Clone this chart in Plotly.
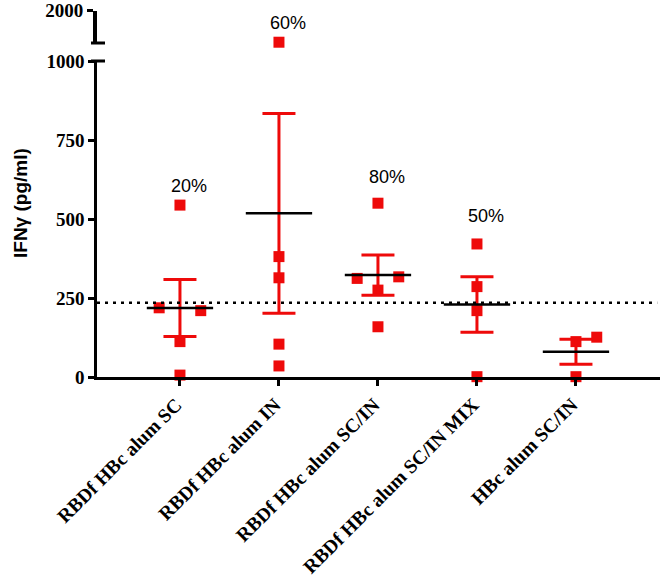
import numpy as np
import plotly.graph_objects as go

# ---------------- data ----------------
groups = ["RBDf HBc alum SC", "RBDf HBc alum IN", "RBDf HBc alum SC/IN",
          "RBDf HBc alum SC/IN MIX", "HBc alum SC/IN"]
g1 = [544, 219, 210, 112, 6]
g2 = [1756, 381, 314, 104, 35]
g3 = [550, 312, 317, 275, 159]
g4 = [421, 286, 210, 1]
g5 = [112, 126, 1]
values = [g1, g2, g3, g4, g5]
threshold = 235
pct_labels = ["20%", "60%", "80%", "50%", ""]
low_ticks = [0, 250, 500, 750, 1000]
high_ticks = [2000]

# ---------------- layout / style (positions) ----------------
jitter = [[0, -0.21, 0.21, 0, 0], [0, 0, 0, 0, 0], [0, -0.21, 0.21, 0, 0],
          [0, 0, 0, 0], [0, 0.21, 0]]
pct_label_py = [186, 23.5, 176.7, 216, None]   # pixel centres of the % labels

W, H = 661, 578
L, R, T, B = 97, 1, 5, 201
plot_h = H - T - B  # 372
bottom_px = H - B   # 377


def py2paper(py):
    return (bottom_px - py) / plot_h


RED = "#ee0a0a"
SERIF = "Liberation Serif, Times New Roman, serif"
SANS = "Liberation Sans, Arial, sans-serif"

low_dom = [0, py2paper(61)]
high_dom = [py2paper(43), py2paper(10.5)]

fig = go.Figure()

# points
xs_lo, ys_lo, xs_hi, ys_hi = [], [], [], []
for i, (vals, jit) in enumerate(zip(values, jitter)):
    for v, j in zip(vals, jit):
        if v > 1000:
            xs_hi.append(i + j); ys_hi.append(v)
        else:
            xs_lo.append(i + j); ys_lo.append(v)

marker = dict(symbol="square", size=11, color=RED, line=dict(width=0))
fig.add_trace(go.Scatter(x=xs_lo, y=ys_lo, mode="markers", marker=marker,
                         cliponaxis=False, yaxis="y", showlegend=False))
fig.add_trace(go.Scatter(x=xs_hi, y=ys_hi, mode="markers", marker=marker,
                         cliponaxis=False, yaxis="y2", showlegend=False))

# mean +- SEM
means = [float(np.mean(v)) for v in values]
sems = [float(np.std(v, ddof=1) / np.sqrt(len(v))) for v in values]
fig.add_trace(go.Scatter(
    x=list(range(len(groups))), y=means, mode="markers",
    marker=dict(size=1, color="rgba(0,0,0,0)"),
    error_y=dict(type="data", array=sems, visible=True, color=RED,
                 thickness=3, width=16.5),
    cliponaxis=False, showlegend=False, hoverinfo="skip"))

# mean lines
mx, my = [], []
for i, m in enumerate(means):
    mx += [i - 0.335, i + 0.335, None]
    my += [m, m, None]
fig.add_trace(go.Scatter(x=mx, y=my, mode="lines",
                         line=dict(color="black", width=2.5),
                         showlegend=False, hoverinfo="skip"))

# threshold dotted line
fig.add_shape(type="line", xref="paper", x0=0, x1=0.995, yref="y",
              y0=threshold, y1=threshold,
              line=dict(color="black", width=2.5, dash="3px,5px"))

# axis break marks
for yb in [high_dom[0], low_dom[1]]:
    fig.add_shape(type="line", xref="paper", xsizemode="pixel", xanchor=0,
                  x0=-6, x1=8, yref="paper", y0=yb, y1=yb,
                  line=dict(color="black", width=3))

# percentage labels
for i, (lab, py) in enumerate(zip(pct_labels, pct_label_py)):
    if lab and py is not None:
        fig.add_annotation(x=i, xref="x", xshift=9, y=py2paper(py), yref="paper",
                           text=lab, showarrow=False, yanchor="middle",
                           font=dict(family=SANS, size=18, color="black"))

# y-axis title
fig.add_annotation(text="IFNγ (pg/ml)", textangle=-90, xref="paper", x=0,
                   xshift=-77, xanchor="center", yref="paper",
                   y=py2paper(203), yanchor="middle", showarrow=False,
                   font=dict(family=SANS, size=19, color="black", weight="bold"))

fig.update_layout(
    width=W, height=H,
    margin=dict(l=L, r=R, t=T, b=B, autoexpand=False),
    paper_bgcolor="white", plot_bgcolor="white",
    showlegend=False,
    xaxis=dict(range=[-0.838, -0.838 + (W - L - R) / 99.0],
               tickvals=list(range(len(groups))), ticktext=groups,
               tickangle=-45, ticks="outside", ticklen=6, tickwidth=2.5,
               tickcolor="black", showline=True, linecolor="black",
               linewidth=2.5, showgrid=False, zeroline=False, automargin=False,
               ticklabelshift=-4, ticklabeloverflow="allow",
               tickfont=dict(family=SERIF, size=19.5, color="black", weight="bold"),
               anchor="y"),
    yaxis=dict(domain=low_dom, range=[0, 1000], tickvals=low_ticks,
               ticks="outside", ticklen=6, tickwidth=2.5, tickcolor="black",
               showline=True, linecolor="black", linewidth=2.5, automargin=False,
               showgrid=False, zeroline=False, ticklabeloverflow="allow",
               tickfont=dict(family=SERIF, size=19, color="black", weight="bold")),
    yaxis2=dict(domain=high_dom, range=[1750, 2000], tickvals=high_ticks,
                ticks="outside", ticklen=6, tickwidth=3, tickcolor="black",
                showline=True, linecolor="black", linewidth=4, automargin=False,
                showgrid=False, zeroline=False, anchor="x",
                ticklabeloverflow="allow",
                tickfont=dict(family=SERIF, size=19, color="black", weight="bold")),
)

fig.write_html(
    "out.html",
    config={"displayModeBar": False},
    post_script="document.body.style.margin='0px';document.body.style.padding='0px';",
)
